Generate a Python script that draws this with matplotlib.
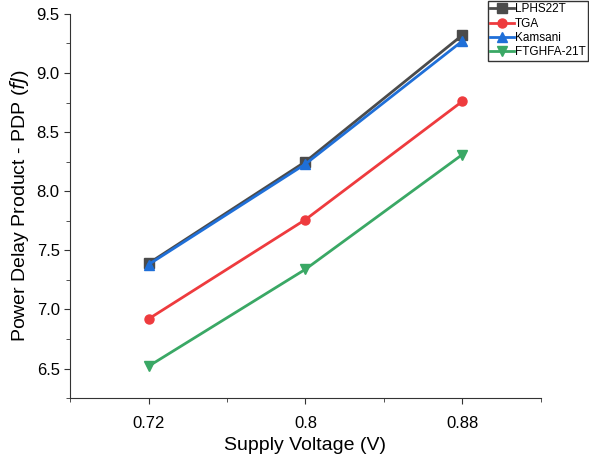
import matplotlib
matplotlib.use("Agg")
import matplotlib.pyplot as plt
from matplotlib.ticker import MultipleLocator

plt.rcParams["font.family"] = ["Liberation Sans", "DejaVu Sans"]

voltage = [0.72, 0.80, 0.88]
x_ticklabels = ["0.72", "0.8", "0.88"]
lphs22t = [7.39, 8.25, 9.32]
tga = [6.92, 7.76, 8.76]
kamsani = [7.38, 8.23, 9.27]
ftghfa = [6.52, 7.34, 8.31]

fig = plt.figure(figsize=(5.89, 4.63), dpi=100)
ax = fig.add_axes([0.119, 0.140, 0.799, 0.830])

ax.plot(voltage, lphs22t, "-s", color="#4b4b4b", lw=2, ms=6.5, label="LPHS22T")
ax.plot(voltage, tga, "-o", color="#ee3b3e", lw=2, ms=6.5, label="TGA")
ax.plot(voltage, kamsani, "-^", color="#1f6fd8", lw=2, ms=6.5, label="Kamsani")
ax.plot(voltage, ftghfa, "-v", color="#3aa865", lw=2, ms=6.5, label="FTGHFA-21T")

ax.set_xlim(0.68, 0.92)
ax.set_ylim(6.25, 9.5)
ax.set_xticks(voltage)
ax.set_xticklabels(x_ticklabels)
ax.xaxis.set_minor_locator(MultipleLocator(0.04))
ax.yaxis.set_major_locator(MultipleLocator(0.5))
ax.yaxis.set_minor_locator(MultipleLocator(0.25))
ax.yaxis.set_major_formatter(plt.FormatStrFormatter("%.1f"))

for s in ["top", "right"]:
    ax.spines[s].set_visible(False)
for s in ["left", "bottom"]:
    ax.spines[s].set_color("#333333")
ax.tick_params(which="both", direction="out", colors="#333333", labelsize=12,
               labelcolor="black")
ax.tick_params(which="major", length=4)
ax.tick_params(which="minor", length=3)
ax.tick_params(axis="x", pad=9)

ax.set_xlabel("Supply Voltage (V)", fontsize=14)
ax.set_ylabel("Power Delay Product - PDP ($\\it{fJ}$)", fontsize=14)

# legend hugs the top-right corner of the figure, like the original
leg = ax.legend(loc="upper right", bbox_to_anchor=(0.998, 0.998),
                bbox_transform=fig.transFigure, fontsize=8.5,
                frameon=True, fancybox=False, borderpad=0.2, labelspacing=0.2,
                handlelength=2.0, handletextpad=0.1, borderaxespad=0)
leg.get_frame().set_edgecolor("black")
leg.get_frame().set_linewidth(1)

fig.savefig("out.png", dpi=100)
